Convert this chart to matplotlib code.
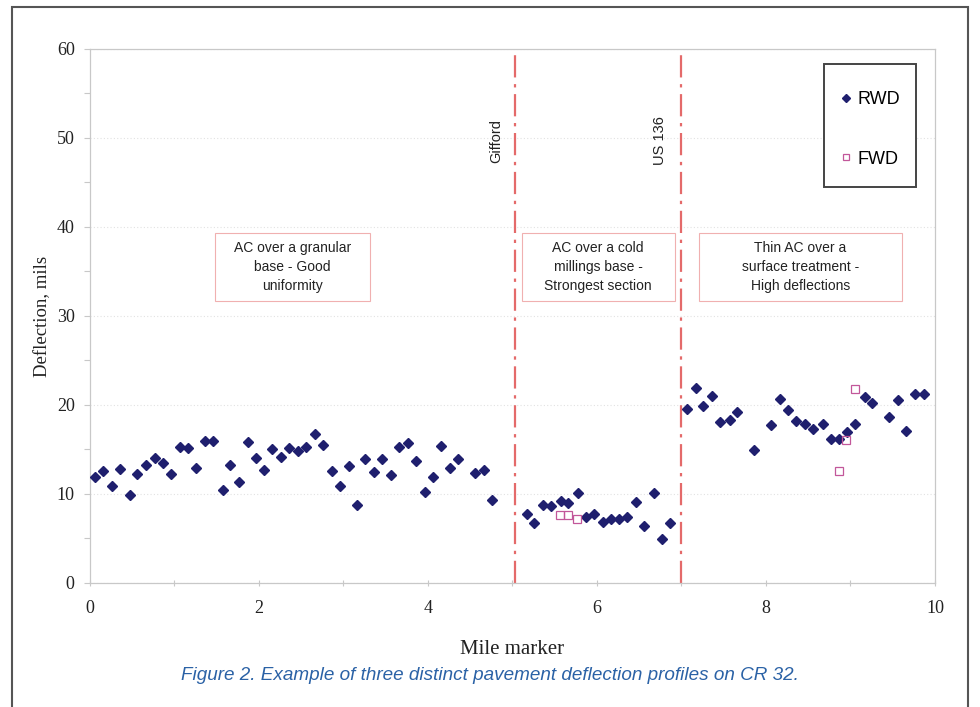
import numpy as np
import matplotlib
matplotlib.use("Agg")
import matplotlib.pyplot as plt
from matplotlib.patches import Rectangle

# RWD readings (mile marker, deflection in mils)
rwd_mile = [0.06, 0.16, 0.26, 0.36, 0.47, 0.56, 0.66, 0.77, 0.86, 0.96,
            1.06, 1.16, 1.25, 1.36, 1.46, 1.57, 1.66, 1.76, 1.87, 1.96,
            2.06, 2.16, 2.26, 2.36, 2.46, 2.56, 2.66, 2.76, 2.86, 2.96,
            3.06, 3.16, 3.26, 3.36, 3.46, 3.56, 3.66, 3.76, 3.86, 3.96,
            4.06, 4.16, 4.26, 4.36, 4.56, 4.66, 4.76,
            5.17, 5.26, 5.36, 5.46, 5.57, 5.66, 5.77, 5.87, 5.97, 6.07,
            6.17, 6.26, 6.36, 6.46, 6.56, 6.67, 6.77, 6.87,
            7.07, 7.17, 7.26, 7.36, 7.46, 7.57, 7.66, 7.86, 8.06, 8.17,
            8.26, 8.36, 8.46, 8.56, 8.67, 8.77, 8.86, 8.96, 9.06, 9.17,
            9.26, 9.46, 9.56, 9.66, 9.77, 9.87]
rwd_defl = [11.9, 12.6, 10.9, 12.8, 9.9, 12.2, 13.3, 14.0, 13.5, 12.3,
            15.3, 15.2, 12.9, 16.0, 16.0, 10.4, 13.3, 11.3, 15.8, 14.0,
            12.7, 15.1, 14.2, 15.2, 14.8, 15.3, 16.7, 15.5, 12.6, 10.9,
            13.1, 8.8, 13.9, 12.5, 13.9, 12.1, 15.3, 15.7, 13.7, 10.2,
            11.9, 15.4, 12.9, 13.9, 12.4, 12.7, 9.3,
            7.8, 6.7, 8.8, 8.7, 9.2, 9.0, 10.1, 7.4, 7.8, 6.9,
            7.2, 7.2, 7.4, 9.1, 6.4, 10.1, 4.9, 6.7,
            19.6, 21.9, 19.9, 21.0, 18.1, 18.3, 19.2, 14.9, 17.8, 20.7,
            19.4, 18.2, 17.9, 17.3, 17.9, 16.2, 16.2, 17.0, 17.9, 20.9,
            20.2, 18.7, 20.6, 17.1, 21.2, 21.2]

# FWD readings
fwd_mile = [5.56, 5.66, 5.76, 8.86, 8.95, 9.06]
fwd_defl = [7.6, 7.6, 7.2, 12.6, 16.1, 21.8]

# section boundaries and labels
boundary_mile = [5.03, 7.0]
boundary_name = ["Gifford", "US 136"]
boundary_label_x = [4.81, 6.75]
section_text = ["AC over a granular\nbase - Good\nuniformity",
                "AC over a cold\nmillings base -\nStrongest section",
                "Thin AC over a\nsurface treatment -\nHigh deflections"]
section_x0 = [1.48, 5.11, 7.21]
section_x1 = [3.31, 6.92, 9.61]

navy = "#1f1f6e"
pink = "#c2579a"
redline = "#e46a6a"
axcol = "#c8c8c8"

fig = plt.figure(figsize=(9.8, 7.07), dpi=100)
ax = fig.add_axes([0.0918, 0.1754, 0.954 - 0.0918, 0.9307 - 0.1754])

ax.set_xlim(0, 10)
ax.set_ylim(0, 60)

ax.set_axisbelow(True)
ax.yaxis.grid(True, color="#e2e2e2", linestyle=(0, (1, 2)), linewidth=0.8)

for xb in boundary_mile:
    ax.axvline(xb, color=redline, linewidth=1.6, linestyle=(0, (10, 3, 1.5, 3)), zorder=2)

ax.plot(rwd_mile, rwd_defl, linestyle="none", marker="D", markersize=5.0,
        color=navy, markeredgecolor=navy, zorder=4, label="RWD")
ax.plot(fwd_mile, fwd_defl, linestyle="none", marker="s", markersize=5.5,
        markerfacecolor="none", markeredgecolor=pink, markeredgewidth=0.9,
        zorder=5, label="FWD")

# section boxes
for txt, a, b in zip(section_text, section_x0, section_x1):
    ax.add_patch(Rectangle((a, 31.7), b - a, 7.6, facecolor="white",
                           edgecolor="#f0b0b0", linewidth=0.8, zorder=3))
    ax.text((a + b) / 2, 35.5, txt, ha="center", va="center", fontsize=10,
            family="Liberation Sans", linespacing=1.42, color="#222222", zorder=4)

for name, xl in zip(boundary_name, boundary_label_x):
    ax.text(xl, 49.7, name, rotation=90, ha="center", va="center",
            fontsize=10.5, family="Liberation Sans", color="#222222")

ax.set_xticks(np.arange(0, 11, 2))
ax.set_xticks(np.arange(0, 11, 1), minor=True)
ax.set_yticks(np.arange(0, 61, 10))
ax.set_yticks(np.arange(0, 61, 5), minor=True)
ax.tick_params(axis="both", which="both", colors=axcol, labelcolor="#222222",
               labelsize=13, length=4, width=0.8)
ax.tick_params(axis="x", which="both", direction="inout", pad=10)
ax.tick_params(axis="y", which="both", direction="out", pad=7)
for lab in ax.get_xticklabels() + ax.get_yticklabels():
    lab.set_family("Liberation Serif")

for s in ax.spines.values():
    s.set_color(axcol)
    s.set_linewidth(0.9)

ax.set_xlabel("Mile marker", family="Liberation Serif", fontsize=15, color="#222222", labelpad=17)
ax.set_ylabel("Deflection, mils", family="Liberation Serif", fontsize=13.5, color="#222222", labelpad=4)

# legend: frame drawn separately so the box size matches
ax.add_patch(Rectangle((0.8686, 0.7416), 0.1089, 0.2303, transform=ax.transAxes,
                       facecolor="white", edgecolor="#444444", linewidth=1.4, zorder=6))
leg = ax.legend(loc="center", bbox_to_anchor=(0.8686 + 0.0545, 0.7416 + 0.108),
                frameon=False, borderpad=0.2, labelspacing=2.35, handlelength=0.7,
                handletextpad=0.25, markerscale=0.8,
                prop={"family": "Liberation Sans", "size": 13})
leg.set_zorder(7)

fig.text(0.5, 0.045, "Figure 2. Example of three distinct pavement deflection profiles on CR 32.",
         ha="center", va="center", fontsize=13.6, style="italic", color="#2b62a6",
         family="Liberation Sans")

# outer figure frame
fig.patches.append(Rectangle((0.0122, -0.02), 0.988 - 0.0122, 0.99 + 0.02,
                             transform=fig.transFigure, fill=False,
                             edgecolor="#555555", linewidth=1.5))

fig.savefig("out.png", dpi=100)
